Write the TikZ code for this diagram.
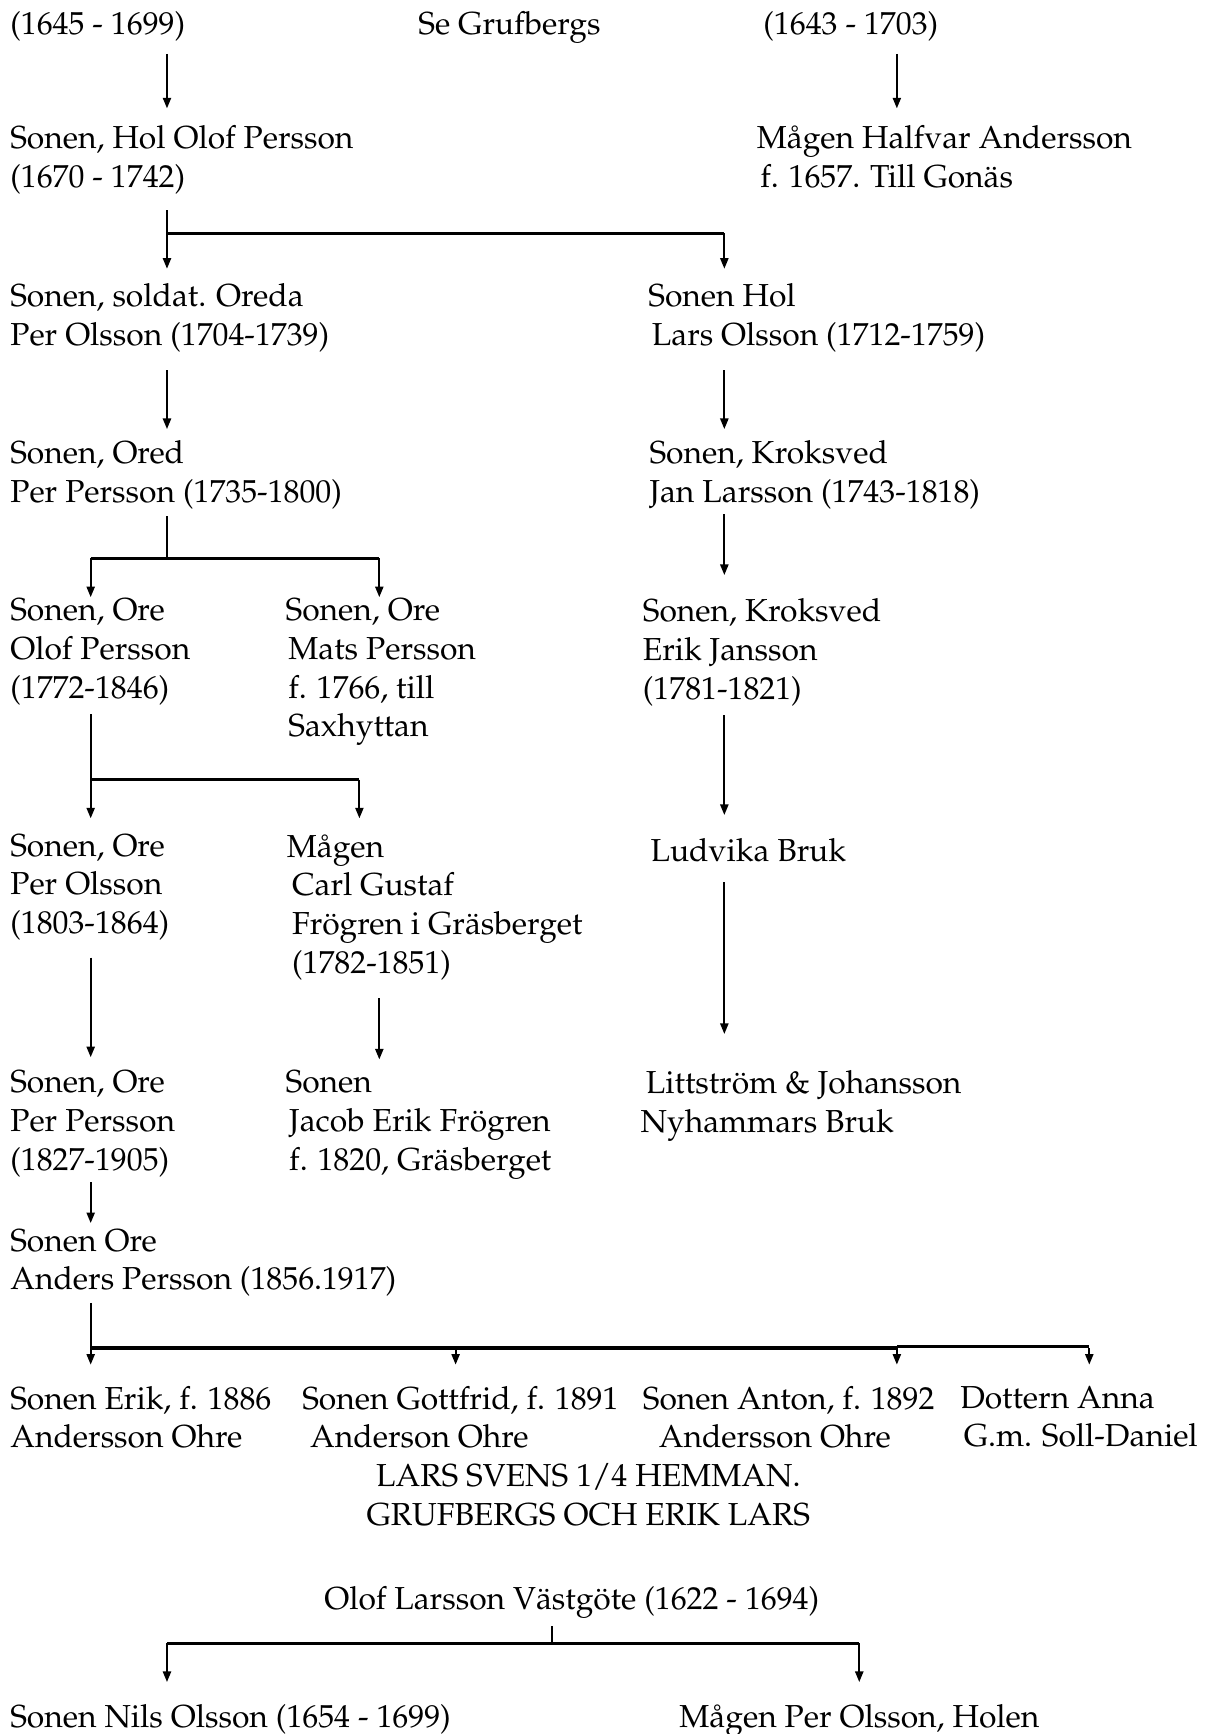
\documentclass[tikz,border=0pt]{standalone}
\usepackage[T1]{fontenc}
\usepackage{mathpazo}
\usetikzlibrary{arrows.meta,calc}

\tikzset{
  person/.style={anchor=north west,inner sep=0pt,align=left,
    font=\fontsize{18}{21.9}\selectfont,
    execute at begin node=\strut,execute at end node=\strut},
  heading/.style={person,anchor=north,align=center},
  stem/.style={line width=1.1pt},
  arr/.style={stem,-{Triangle[length=6pt,width=4.6pt]}},
  bar/.style={line width=1.8pt},
}

\begin{document}
\begin{tikzpicture}[x=0.022cm,y=-0.022cm]
\useasboundingbox (0,0) rectangle (1089,1568);

% columns of the connectors
\coordinate (cA) at (151,0);
\coordinate (cB) at (82,0);
\coordinate (cC) at (343,0);
\coordinate (cD) at (325,0);
\coordinate (cE) at (655,0);
\coordinate (cF) at (811,0);
\coordinate (cG) at (412,0);
\coordinate (cH) at (985,0);
\coordinate (cI) at (499,0);
\coordinate (cJ) at (777,0);

% Ore line
\node[person] (top1) at (9,6) {(1645 - 1699)};
\node[person] (grufb) at (378,6) {Se Grufbergs};
\node[person] (top2) at (690,6) {(1643 - 1703)};

\node[person] (holOlof) at (9,113) {Sonen, Hol Olof Persson\\(1670 - 1742)};
\node[person] (halfvar) at (684,113) {Mågen Halfvar Andersson\\\hspace*{2pt}f. 1657. Till Gonäs};

\node[person] (perOlsson) at (9,256) {Sonen, soldat. Oreda\\Per Olsson (1704-1739)};
\node[person] (larsOlsson) at (586,256) {Sonen Hol\\\hspace*{2pt}Lars Olsson (1712-1759)};

\node[person] (perPersson) at (9,398) {Sonen, Ored\\Per Persson (1735-1800)};
\node[person] (janLarsson) at (587,398) {Sonen, Kroksved\\Jan Larsson (1743-1818)};

\node[person] (olofPersson) at (9,541) {Sonen, Ore\\Olof Persson\\(1772-1846)};
\node[person] (matsPersson) at (258,541) {Sonen, Ore\\\hspace*{1.5pt}Mats Persson\\\hspace*{1.5pt}f. 1766, till\\\hspace*{1.5pt}Saxhyttan};
\node[person] (erikJansson) at (581,541) {Sonen, Kroksved\\Erik Jansson\\(1781-1821)};

\node[person] (perOlsson2) at (9,754) {Sonen, Ore\\Per Olsson\\(1803-1864)};
\node[person] (carlGustaf) at (259,754) {Mågen\\\hspace*{3pt}Carl Gustaf\\\hspace*{3pt}Frögren i Gräsberget\\\hspace*{3pt}(1782-1851)};
\node[person] (ludvika) at (588,754) {Ludvika Bruk};

\node[person] (perPersson2) at (9,968) {Sonen, Ore\\Per Persson\\(1827-1905)};
\node[person] (jacobErik) at (258,968) {Sonen\\\hspace*{2pt}Jacob Erik Frögren\\\hspace*{2pt}f. 1820, Gräsberget};
\node[person] (nyhammar) at (579,968) {\hspace*{3pt}Littström \& Johansson\\Nyhammars Bruk};

\node[person] (andersPersson) at (9,1111) {Sonen Ore\\Anders Persson (1856.1917)};

\node[person] (erikOhre) at (9,1253) {Sonen Erik, f. 1886\\Andersson Ohre};
\node[person] (gottfrid) at (273,1253) {Sonen Gottfrid, f. 1891\\\hspace*{4.5pt}Anderson Ohre};
\node[person] (anton) at (581,1253) {Sonen Anton, f. 1892\\\hspace*{9pt}Andersson Ohre};
\node[person] (anna) at (868,1253) {Dottern Anna\\\hspace*{2pt}G.m. Soll-Daniel};

% Grufbergs line
\node[heading] (hemman) at (532,1323) {LARS SVENS 1/4 HEMMAN.\\GRUFBERGS OCH ERIK LARS};
\node[heading] (vastgote) at (517,1431) {Olof Larsson Västgöte (1622 - 1694)};
\node[person] (nils) at (9,1537) {Sonen Nils Olsson (1654 - 1699)};
\node[person] (perHolen) at (614,1537) {Mågen Per Olsson, Holen};

% straight descents
\foreach \src/\dst/\col/\s/\e in {top1/holOlof/cA/7/15, top2/halfvar/cF/7/15,
    perOlsson/perPersson/cA/12/10, larsOlsson/janLarsson/cE/12/10,
    janLarsson/erikJansson/cE/0/21, erikJansson/ludvika/cE/4/17,
    perOlsson2/perPersson2/cB/11/12, carlGustaf/jacobErik/cC/12/10,
    ludvika/nyhammar/cE/8/33, perPersson2/andersPersson/cB/0/5}
  \draw[arr] ($(\col |- \src.south)+(0,\s)$) -- ($(\col |- \dst.north)+(0,-\e)$);

% Hol Olof Persson
\coordinate (j1) at (151,211);
\draw[arr] ($(cA |- holOlof.south)+(0,10)$) -- ($(cA |- perOlsson.north)+(0,-13)$);
\draw[bar] (j1) -- (j1 -| cE);
\draw[arr] (j1 -| cE) -- ($(cE |- larsOlsson.north)+(0,-13)$);

% Ored Per Persson
\coordinate (j2) at (151,505);
\draw[stem] ($(cA |- perPersson.south)+(0,2)$) -- (j2);
\draw[bar] (j2 -| cB) -- (j2 -| cC);
\draw[arr] (j2 -| cB) -- ($(cB |- olofPersson.north)+(0,-1)$);
\draw[arr] (j2 -| cC) -- ($(cC |- matsPersson.north)+(0,-1)$);

% Ore Olof Persson
\coordinate (j3) at (82,705);
\draw[arr] ($(cB |- olofPersson.south)+(0,4)$) -- ($(cB |- perOlsson2.north)+(0,-14)$);
\draw[bar] (j3) -- (j3 -| cD);
\draw[arr] (j3 -| cD) -- ($(cD |- carlGustaf.north)+(0,-14)$);

% Ore Anders Persson
\coordinate (j4) at (82,1219);
\draw[arr] ($(cB |- andersPersson.south)+(0,1)$) -- ($(cB |- erikOhre.north)+(0,-19)$);
\draw[bar] (j4) -- (j4 -| cF);
\draw[bar] ($(j4 -| cF)+(0,-1.3)$) -- ($(j4 -| cH)+(0,-1.3)$);
\foreach \kid/\col in {gottfrid/cG, anton/cF, anna/cH}
  \draw[arr] (j4 -| \col) -- ($(\col |- \kid.north)+(0,-19)$);

% Olof Larsson Vastgote
\coordinate (j5) at (499,1486);
\draw[stem] ($(cI |- vastgote.south)+(0,4)$) -- (j5);
\draw[bar] (j5 -| cA) -- (j5 -| cJ);
\draw[arr] (j5 -| cA) -- ($(cA |- nils.north)+(0,-16)$);
\draw[arr] (j5 -| cJ) -- ($(cJ |- perHolen.north)+(0,-16)$);

\end{tikzpicture}
\end{document}
